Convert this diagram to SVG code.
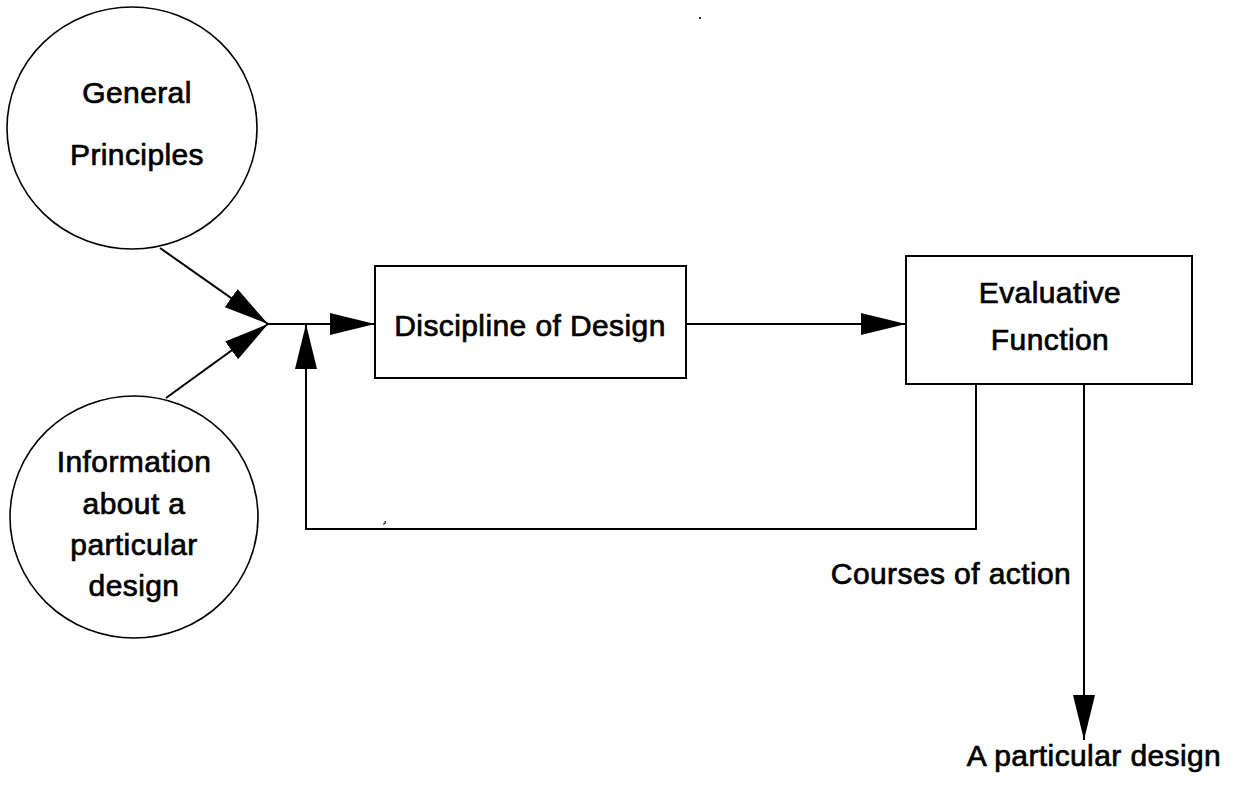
<svg xmlns="http://www.w3.org/2000/svg" width="1240" height="790" viewBox="0 0 1240 790">
  <style>
    .shape { fill: #ffffff; stroke: #000000; stroke-width: 1.6; }
    .box { fill: #ffffff; stroke: #000000; stroke-width: 2; }
    .wire { fill: none; stroke: #000000; stroke-width: 2; }
    .label { font-family: "Liberation Sans", Arial, sans-serif; font-size: 30px; fill: #000000; stroke: #000000; stroke-width: 0.7px; letter-spacing: 0.4px; text-anchor: middle; }
  </style>
  <defs>
    <marker id="arrow" markerUnits="userSpaceOnUse" markerWidth="46" markerHeight="24" refX="45" refY="12" orient="auto">
      <path d="M0,1 L45,12 L0,23 Z" fill="#000000"/>
    </marker>
  </defs>
  <rect width="1240" height="790" fill="#ffffff"/>

  <!-- connectors -->
  <g id="connectors">
    <line class="wire" x1="160" y1="248" x2="268" y2="324" marker-end="url(#arrow)"/>
    <line class="wire" x1="166" y1="398" x2="268" y2="324" marker-end="url(#arrow)"/>
    <line class="wire" x1="268" y1="324" x2="375" y2="324" marker-end="url(#arrow)"/>
    <line class="wire" x1="686" y1="324" x2="906" y2="324" marker-end="url(#arrow)"/>
    <path class="wire" d="M976,384 V529 H306 V324" marker-end="url(#arrow)"/>
    <line class="wire" x1="1084" y1="384" x2="1084" y2="740" marker-end="url(#arrow)"/>
  </g>

  <!-- nodes -->
  <g id="general-principles">
    <ellipse class="shape" cx="132" cy="128" rx="125" ry="121"/>
    <text class="label" x="137" y="103">General</text>
    <text class="label" x="137" y="165">Principles</text>
  </g>

  <g id="particular-information">
    <ellipse class="shape" cx="134" cy="517" rx="124" ry="121"/>
    <text class="label" x="134" y="472">Information</text>
    <text class="label" x="134" y="514">about a</text>
    <text class="label" x="134" y="555">particular</text>
    <text class="label" x="134" y="596">design</text>
  </g>

  <g id="discipline-of-design">
    <rect class="box" x="375" y="266" width="311" height="112"/>
    <text class="label" x="530" y="336">Discipline of Design</text>
  </g>

  <g id="evaluative-function">
    <rect class="box" x="906" y="256" width="286" height="128"/>
    <text class="label" x="1050" y="303">Evaluative</text>
    <text class="label" x="1050" y="350">Function</text>
  </g>

  <g id="courses-of-action">
    <text class="label" x="951" y="584">Courses of action</text>
  </g>

  <g id="particular-design">
    <text class="label" x="1094" y="766">A particular design</text>
  </g>

  <!-- stray specks -->
  <rect x="699" y="17" width="2" height="2" fill="#333333"/>
  <path d="M385,521 q1,3 -2,3" fill="none" stroke="#000000" stroke-width="1.2"/>
</svg>
